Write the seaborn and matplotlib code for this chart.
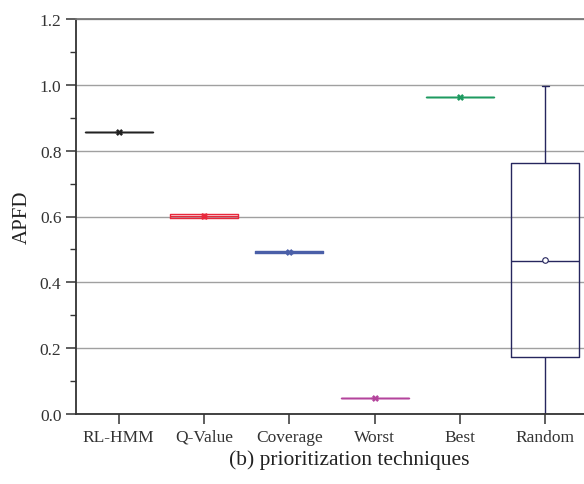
"""
APFD box plot of the prioritization techniques.
"""

import matplotlib
matplotlib.use("Agg")
import matplotlib.pyplot as plt
from matplotlib.ticker import MultipleLocator
import seaborn as sns
import pandas as pd

techniques = ["RL-HMM", "Q-Value", "Coverage", "Worst", "Best", "Random"]

# APFD values (min, q1, median, q3, max)
rl_hmm = [0.858, 0.858, 0.858, 0.858, 0.858]
q_value = [0.596, 0.596, 0.603, 0.609, 0.609]
coverage = [0.488, 0.488, 0.492, 0.495, 0.495]
worst = [0.048, 0.048, 0.048, 0.048, 0.048]
best = [0.963, 0.963, 0.963, 0.963, 0.963]
random_order = [0.0, 0.173, 0.464, 0.762, 0.996]

means = [0.858, 0.603, 0.492, 0.048, 0.963, 0.468]

colors = ["#222222", "#e8283c", "#4a5fa8", "#b4449c", "#1e9a60", "#26265e"]

values = [rl_hmm, q_value, coverage, worst, best, random_order]
df = pd.DataFrame(
    [(t, v) for t, vals in zip(techniques, values) for v in vals],
    columns=["technique", "apfd"],
)
palette = dict(zip(techniques, colors))

sns.set_style("white")
plt.rcParams["font.family"] = ["Liberation Serif", "DejaVu Serif"]

fig = plt.figure(figsize=(5.84, 4.85), dpi=100)
ax = fig.add_axes([76 / 584, 1 - 415 / 485, (588 - 76) / 584, 395 / 485])

sns.boxplot(data=df, x="technique", y="apfd", hue="technique", order=techniques,
            palette=palette, saturation=1, fill=False, whis=(0, 100), width=0.8,
            linewidth=1.0, capwidths=0.08, legend=False, ax=ax)

# mean markers
sns.stripplot(x=techniques[:5], y=means[:5], hue=techniques[:5], palette=palette,
              order=techniques, jitter=False, marker="X", size=5, linewidth=0,
              legend=False, ax=ax)
sns.stripplot(x=techniques[5:], y=means[5:], order=techniques, jitter=False,
              marker="o", size=4, color="white", edgecolor=colors[5], linewidth=0.8,
              legend=False, ax=ax)

ax.set_xlim(-0.5, 5.5)
ax.set_ylim(0, 1.2)
ax.yaxis.set_major_locator(MultipleLocator(0.2))
ax.yaxis.set_minor_locator(MultipleLocator(0.1))
ax.set_yticklabels([f"{v:.1f}" for v in ax.get_yticks()])

ax.grid(axis="y", which="major", color="#a0a0a0", linewidth=1.0, zorder=0)
ax.set_axisbelow(True)

for side in ["left", "bottom"]:
    ax.spines[side].set_color("#333333")
    ax.spines[side].set_linewidth(1.3)
ax.spines["top"].set_color("#777777")
ax.spines["top"].set_linewidth(1.3)
ax.spines["right"].set_visible(False)

ax.tick_params(axis="both", which="major", direction="out", length=7, width=1.1,
               color="#333333", labelsize=12.5, labelcolor="#333333", left=True, bottom=True)
ax.tick_params(axis="y", which="minor", direction="out", length=4, width=1.0,
               color="#333333", left=True)

ax.set_ylabel("APFD", fontsize=15, color="#222222", labelpad=6)
ax.set_xlabel("(b) prioritization techniques", fontsize=15.5, color="#222222")
ax.xaxis.set_label_coords(0.533, -0.09)

fig.savefig("out.png", dpi=100)
